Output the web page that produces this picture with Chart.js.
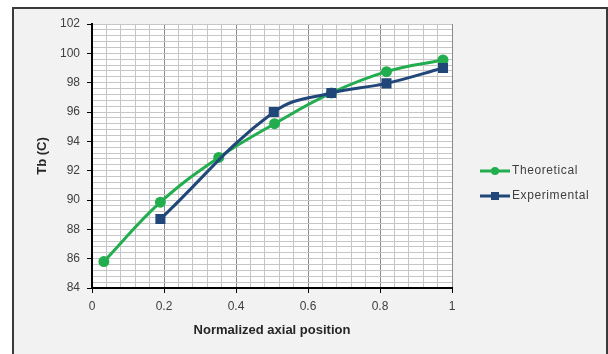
<!DOCTYPE html>
<html>
<head>
<meta charset="utf-8">
<script src="https://cdn.jsdelivr.net/npm/chart.js@4.4.1/dist/chart.umd.min.js"></script>
<style>
  html, body { margin: 0; padding: 0; background: #fff; }
  #wrap { width: 608px; height: 354px; }
</style>
</head>
<body>
<div id="wrap"><canvas id="tbChart" width="608" height="354"></canvas></div>
<script>
// data
const theoX = [0.033, 0.19, 0.352, 0.507, 0.665, 0.818, 0.975];
const theoY = [85.8, 89.85, 92.9, 95.2, 97.3, 98.75, 99.55];
const expX = [0.19, 0.505, 0.665, 0.818, 0.975];
const expY = [88.7, 96.0, 97.3, 97.95, 99.0];
const seriesNames = ["Theoretical", "Experimental"];
const xTickLabels = ["0", "0.2", "0.4", "0.6", "0.8", "1"];
const yTickLabels = ["84", "86", "88", "90", "92", "94", "96", "98", "100", "102"];

const GREEN = "#22ad4e";
const BLUE = "#21477a";
const FONT = "'Liberation Sans', Arial, sans-serif";

const toPoints = (xs, ys) => xs.map((x, i) => ({ x: x, y: ys[i] }));

// frame + white plot area
const backdrop = {
  id: "backdrop",
  beforeDraw(chart) {
    const ctx = chart.ctx;
    const a = chart.chartArea;
    ctx.save();
    ctx.fillStyle = "#ffffff";
    ctx.fillRect(0, 0, chart.width, chart.height);
    ctx.fillStyle = "#f2f2f2";
    ctx.fillRect(13, 7, chart.width - 13, chart.height - 7);
    ctx.strokeStyle = "#3a3a3a";
    ctx.lineWidth = 2;
    ctx.beginPath();
    ctx.moveTo(13, chart.height);
    ctx.lineTo(13, 8);
    ctx.lineTo(chart.width - 1, 8);
    ctx.lineTo(chart.width - 1, chart.height);
    ctx.stroke();
    ctx.fillStyle = "#ffffff";
    ctx.fillRect(a.left, a.top, a.right - a.left, a.bottom - a.top);
    ctx.restore();
  }
};

// excel style legend: line with marker in the middle
const sideLegend = {
  id: "sideLegend",
  afterDraw(chart) {
    const ctx = chart.ctx;
    ctx.save();
    chart.data.datasets.forEach((ds, i) => {
      const y = 171 + i * 25;
      ctx.strokeStyle = ds.borderColor;
      ctx.lineWidth = 3;
      ctx.beginPath();
      ctx.moveTo(480, y);
      ctx.lineTo(510, y);
      ctx.stroke();
      ctx.fillStyle = ds.borderColor;
      if (ds.pointStyle === "rect") {
        ctx.fillRect(491, y - 4, 8, 8);
      } else {
        ctx.beginPath();
        ctx.arc(495, y, 4, 0, Math.PI * 2);
        ctx.fill();
      }
      ctx.fillStyle = "#404040";
      ctx.font = "12px " + FONT;
      ctx.letterSpacing = "0.6px";
      ctx.textBaseline = "middle";
      ctx.fillText(ds.label, 512, y);
    });
    ctx.restore();
  }
};

const isMajorX = v => Math.round(v * 100) % 20 === 0;
const isMajorY = v => Math.round(v * 10) % 20 === 0;

new Chart("tbChart", {
  type: "line",
  data: {
    datasets: [{
      label: seriesNames[0],
      data: toPoints(theoX, theoY),
      borderColor: GREEN,
      backgroundColor: GREEN,
      borderWidth: 3,
      pointStyle: "circle",
      pointRadius: 4,
      tension: 0.4,
      order: 1
    }, {
      label: seriesNames[1],
      data: toPoints(expX, expY),
      borderColor: BLUE,
      backgroundColor: BLUE,
      borderWidth: 3,
      pointStyle: "rect",
      pointRadius: 5,
      tension: 0.4,
      order: 0
    }]
  },
  options: {
    responsive: false,
    animation: false,
    layout: { padding: { left: 0, right: 156, top: 24, bottom: 0 } },
    plugins: {
      legend: { display: false },
      tooltip: { enabled: false }
    },
    scales: {
      x: {
        type: "linear",
        min: 0,
        max: 1,
        afterFit: s => { s.height = 66; },
        border: { color: "#000", width: 2 },
        grid: {
          color: c => isMajorX(c.tick.value) ? "#8a8a8a" : "#c6c6c6",
          tickColor: c => isMajorX(c.tick.value) ? "#000" : "rgba(0,0,0,0)",
          tickLength: 5,
          lineWidth: 1
        },
        ticks: {
          stepSize: 0.04,
          autoSkip: false,
          maxRotation: 0,
          padding: 6,
          color: "#404040",
          font: { family: FONT, size: 12 },
          callback: v => isMajorX(v) ? xTickLabels[Math.round(v * 5)] : ""
        },
        title: {
          display: true,
          text: "Normalized axial position",
          color: "#262626",
          font: { family: FONT, size: 13, weight: "bold" },
          padding: { bottom: 16 }
        }
      },
      y: {
        min: 84,
        max: 102,
        afterFit: s => { s.width = 92; },
        border: { color: "#000", width: 2 },
        grid: {
          color: "#c6c6c6",
          tickColor: c => isMajorY(c.tick.value) ? "#000" : "rgba(0,0,0,0)",
          tickLength: 5,
          lineWidth: 1
        },
        ticks: {
          stepSize: 0.4,
          autoSkip: false,
          padding: 7,
          color: "#404040",
          font: { family: FONT, size: 12 },
          callback: v => isMajorY(v) ? yTickLabels[Math.round((v - 84) / 2)] : ""
        },
        title: {
          display: true,
          text: "Tb (C)",
          color: "#262626",
          font: { family: FONT, size: 13, weight: "bold" },
          padding: { top: 35 }
        }
      }
    }
  },
  plugins: [backdrop, sideLegend]
});
</script>
</body>
</html>
